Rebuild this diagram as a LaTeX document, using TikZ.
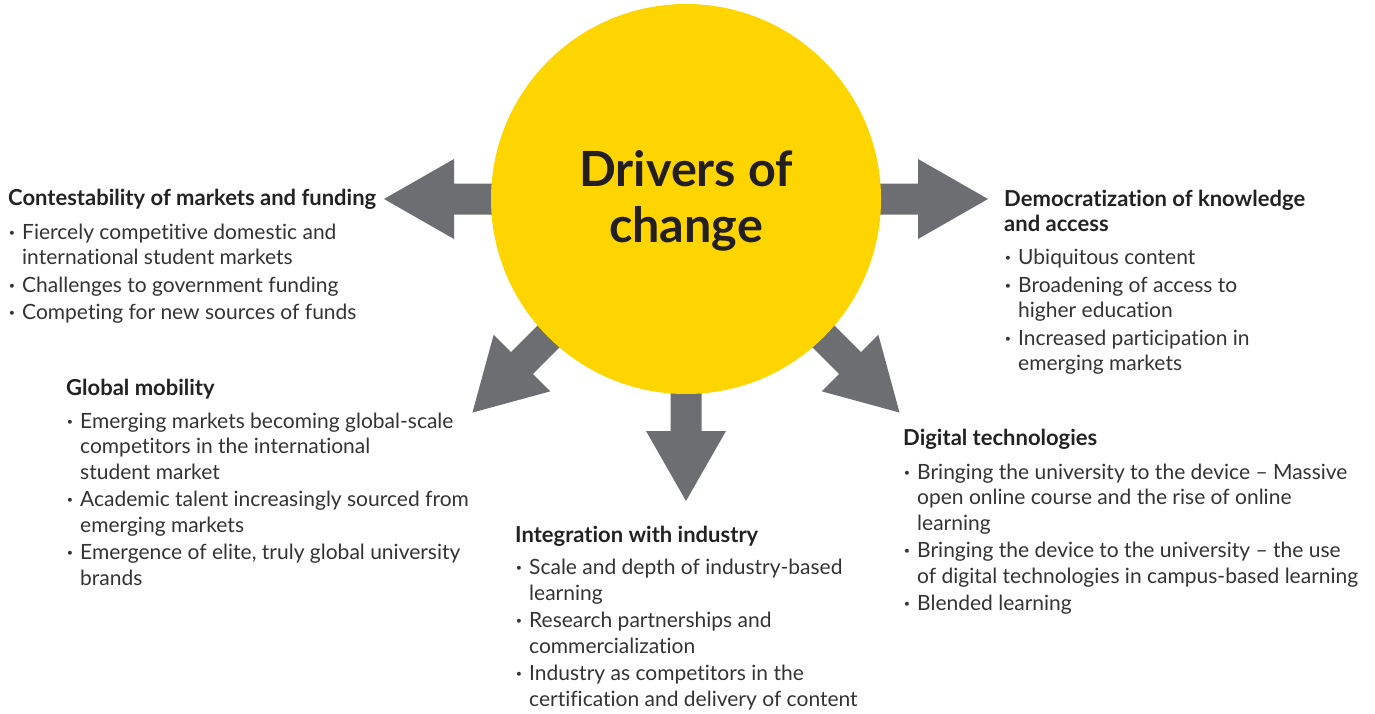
\documentclass[tikz,border=0pt]{standalone}
\usepackage{fontspec}
\setmainfont{Lato}[Ligatures={NoCommon}]
\definecolor{eyyellow}{HTML}{FFD500}
\definecolor{arrowgrey}{HTML}{6D6E71}
\definecolor{bodytext}{HTML}{333333}
\definecolor{headtext}{HTML}{222222}
\definecolor{titletext}{HTML}{231F20}
\newcommand\hd[1]{{\bfseries\fontsize{22}{25.5}\selectfont\color{headtext}#1}}
\newcommand\bul{\makebox[14pt][l]{\hspace{1pt}\textbf{·}}}
\newcommand\ind{\hspace*{14pt}}
\newcommand\topstrut{\rule{0pt}{20pt}}
\begin{document}
\begin{tikzpicture}[x=1pt,y=-1pt,
  grp/.style={align=left,inner sep=0pt,anchor=north west,text=bodytext,
    font=\fontsize{21}{25.5}\selectfont},
  bigarrow/.style={fill=arrowgrey,draw=none}]
\useasboundingbox (0,0) rectangle (1375,713);
\coordinate (ctr) at (686,199);
% arrows
\foreach \a in {180,0,-90,-135,-45}{
  \begin{scope}[shift={(ctr)},rotate=\a]
    \path[bigarrow] (0,-15.5) -- (232,-15.5) -- (232,-40) -- (302,0) -- (232,40) -- (232,15.5) -- (0,15.5) -- cycle;
  \end{scope}
}
\node[circle,fill=eyyellow,minimum size=390pt,inner sep=0pt] (hub) at (ctr) {};
\node[align=center,inner sep=0pt,anchor=base,text=titletext,
  font=\bfseries\fontsize{48.5}{56}\selectfont] (title) at (686,242) {Drivers of\\change};
% groups (anchor point = first baseline minus 20)
\node[grp] (contest) at (8,185) {\topstrut\hd{Contestability of markets and funding}\\[8.5pt]
\bul Fiercely competitive domestic and\\
\ind international student markets\\[2pt]
\bul Challenges to government funding\\[2pt]
\bul Competing for new sources of funds};
\node[grp] (democ) at (1004,186) {\topstrut\hd{Democratization of knowledge}\\
\hd{and access}\\[7.5pt]
\bul Ubiquitous content\\[2pt]
\bul Broadening of access to\\
\ind higher education\\[2pt]
\bul Increased participation in\\
\ind emerging markets};
\node[grp] (mobil) at (66,375) {\topstrut\hd{Global mobility}\\[7.5pt]
\bul Emerging markets becoming global-scale\\
\ind competitors in the international\\
\ind student market\\[2pt]
\bul Academic talent increasingly sourced from\\
\ind emerging markets\\[2pt]
\bul Emergence of elite, truly global university\\
\ind brands};
\node[grp] (indus) at (515,522) {\topstrut\hd{Integration with industry}\\[7pt]
\bul Scale and depth of industry-based\\
\ind learning\\[2pt]
\bul Research partnerships and\\
\ind commercialization\\[2pt]
\bul Industry as competitors in the\\
\ind certification and delivery of content};
\node[grp] (digit) at (903,425) {\topstrut\hd{Digital technologies}\\[8.5pt]
\bul Bringing the university to the device -- Massive\\
\ind open online course and the rise of online\\
\ind learning\\[2pt]
\bul Bringing the device to the university -- the use\\
\ind of digital technologies in campus-based learning\\[2pt]
\bul Blended learning};
\end{tikzpicture}
\end{document}
